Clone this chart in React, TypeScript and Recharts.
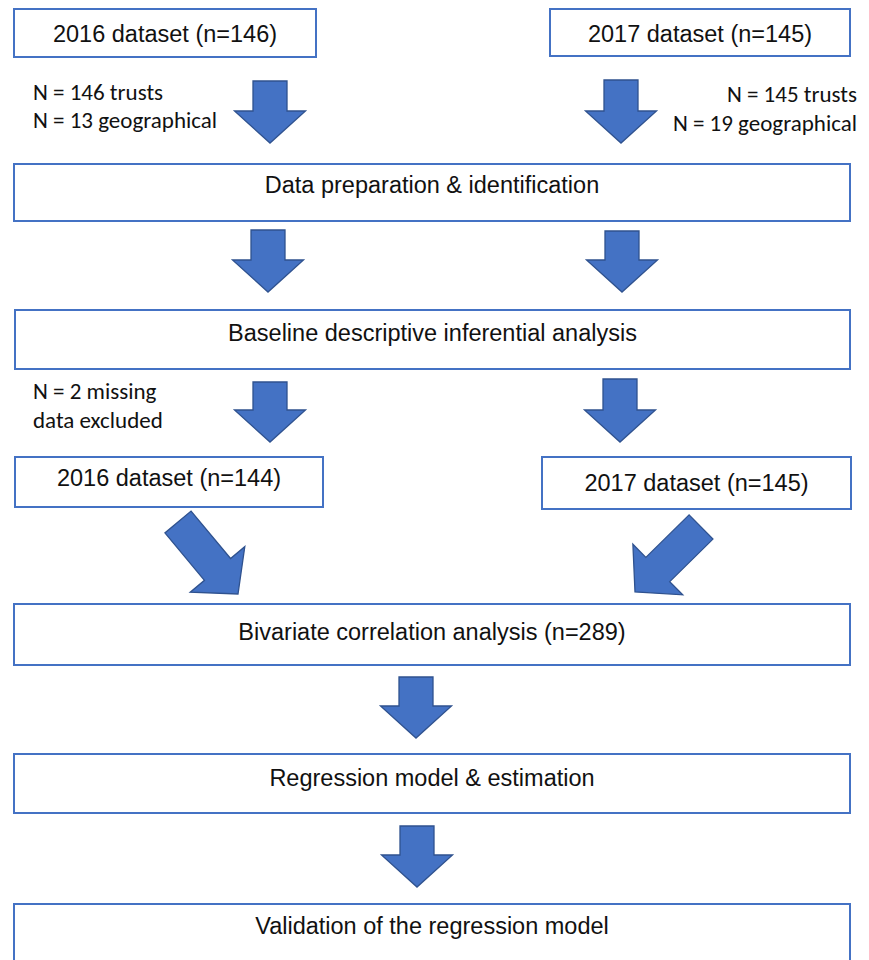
import React from 'react';
import { ScatterChart, XAxis, YAxis, Scatter, ReferenceArea, ReferenceLine } from 'recharts';

// Flowchart boxes (data space = 869 x 960 canvas units)
const boxes = [
  { label: '2016 dataset (n=146)', x1: 14, x2: 316, y1: 9, y2: 57, ty: 41.5 },
  { label: '2017 dataset (n=145)', x1: 550, x2: 850, y1: 9, y2: 56, ty: 41.5 },
  { label: 'Data preparation & identification', x1: 14, x2: 850, y1: 164, y2: 221, ty: 193 },
  { label: 'Baseline descriptive inferential analysis', x1: 15, x2: 850, y1: 310, y2: 369, ty: 341 },
  { label: '2016 dataset (n=144)', x1: 15, x2: 323, y1: 457, y2: 507, ty: 486 },
  { label: '2017 dataset (n=145)', x1: 542, x2: 851, y1: 457, y2: 509, ty: 491 },
  { label: 'Bivariate correlation analysis (n=289)', x1: 14, x2: 850, y1: 604, y2: 665, ty: 640 },
  { label: 'Regression model & estimation', x1: 14, x2: 850, y1: 754, y2: 813, ty: 786 },
  { label: 'Validation of the regression model', x1: 14, x2: 850, y1: 904, y2: 975, ty: 934 },
];

// Block arrows: from shaft start to tip
const arrows = [
  { x1: 270, y1: 81, x2: 270, y2: 143 },
  { x1: 621, y1: 80, x2: 621, y2: 143 },
  { x1: 268, y1: 230, x2: 268, y2: 292 },
  { x1: 622, y1: 231, x2: 622, y2: 292 },
  { x1: 270, y1: 382, x2: 270, y2: 442 },
  { x1: 620, y1: 379, x2: 620, y2: 442 },
  { x1: 178, y1: 522, x2: 238, y2: 594 },
  { x1: 701, y1: 527, x2: 635, y2: 592 },
  { x1: 416, y1: 677, x2: 416, y2: 738 },
  { x1: 417, y1: 826, x2: 417, y2: 887 },
];

// Side notes
const notesLeft = [
  { x: 33, y: 100, text: 'N = 146 trusts' },
  { x: 33, y: 128, text: 'N = 13 geographical' },
  { x: 33, y: 399, text: 'N = 2 missing' },
  { x: 33, y: 428, text: 'data excluded' },
];
const notesRight = [
  { x: 857, y: 102, text: 'N = 145 trusts' },
  { x: 857, y: 131, text: 'N = 19 geographical' },
];

const boxLabels = boxes.map((b) => ({ x: (b.x1 + b.x2) / 2, y: b.ty, text: b.label }));

const BLUE = '#4472C4';
const DARK = '#2F528F';
const BOX_FONT = '"Liberation Sans", Arial, sans-serif';
const NOTE_FONT = 'Carlito, Lato, "Open Sans", sans-serif';

const SHAFT = 34;
const HEAD_W = 71;
const HEAD_L = 32;

const ArrowShape = (p: any) => {
  const { x1, y1, x2, y2 } = p;
  const dx = x2 - x1;
  const dy = y2 - y1;
  const L = Math.sqrt(dx * dx + dy * dy) || 1;
  const ux = dx / L;
  const uy = dy / L;
  const nx = -uy;
  const ny = ux;
  const hx = x1 + ux * (L - HEAD_L);
  const hy = y1 + uy * (L - HEAD_L);
  const s = SHAFT / 2;
  const h = HEAD_W / 2;
  const pts = [
    [x1 + nx * s, y1 + ny * s],
    [hx + nx * s, hy + ny * s],
    [hx + nx * h, hy + ny * h],
    [x2, y2],
    [hx - nx * h, hy - ny * h],
    [hx - nx * s, hy - ny * s],
    [x1 - nx * s, y1 - ny * s],
  ]
    .map((q) => `${q[0].toFixed(2)},${q[1].toFixed(2)}`)
    .join(' ');
  return <polygon points={pts} fill={BLUE} stroke={DARK} strokeWidth={1.3} strokeLinejoin="miter" />;
};

const BoxText = (p: any) => (
  <text x={p.cx} y={p.cy} textAnchor="middle" fontFamily={BOX_FONT} fontSize={23.5} fill="#111">
    {p.payload.text}
  </text>
);
const NoteLeft = (p: any) => (
  <text x={p.cx} y={p.cy} textAnchor="start" fontFamily={NOTE_FONT} fontSize={23} fill="#111">
    {p.payload.text}
  </text>
);
const NoteRight = (p: any) => (
  <text x={p.cx} y={p.cy} textAnchor="end" fontFamily={NOTE_FONT} fontSize={23} fill="#111">
    {p.payload.text}
  </text>
);

export default function App() {
  return (
    <div style={{ position: 'absolute', left: 0, top: 0, width: 869, height: 960, background: '#fff', overflow: 'hidden' }}>
      <ScatterChart width={869} height={960} margin={{ top: 0, right: 0, bottom: 0, left: 0 }}>
        <XAxis type="number" dataKey="x" domain={[0, 869]} hide allowDataOverflow />
        <YAxis type="number" dataKey="y" domain={[0, 960]} reversed hide allowDataOverflow />
        {boxes.map((b, i) => (
          <ReferenceArea
            key={`b${i}`}
            x1={b.x1}
            x2={b.x2}
            y1={b.y1}
            y2={b.y2}
            fill="none"
            fillOpacity={0}
            stroke={BLUE}
            strokeWidth={2}
            strokeOpacity={1}
            ifOverflow="visible"
          />
        ))}
        {arrows.map((a, i) => (
          <ReferenceLine
            key={`a${i}`}
            segment={[
              { x: a.x1, y: a.y1 },
              { x: a.x2, y: a.y2 },
            ]}
            shape={ArrowShape}
            ifOverflow="visible"
          />
        ))}
        <Scatter data={boxLabels} shape={BoxText} isAnimationActive={false} />
        <Scatter data={notesLeft} shape={NoteLeft} isAnimationActive={false} />
        <Scatter data={notesRight} shape={NoteRight} isAnimationActive={false} />
      </ScatterChart>
    </div>
  );
}
